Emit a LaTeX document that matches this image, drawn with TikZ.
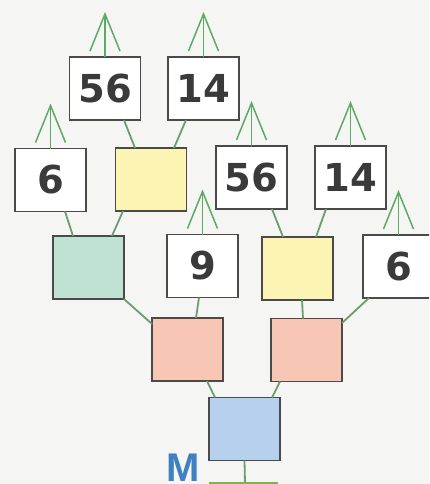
\documentclass[tikz,border=0pt]{standalone}
\usepackage{fontspec}
\setmainfont{Liberation Sans}
\newfontfamily\digitfont{DejaVu Sans}
\usetikzlibrary{calc}
\definecolor{bgc}{HTML}{F5F5F3}
\definecolor{boxline}{HTML}{4A4A4A}
\definecolor{numc}{HTML}{3A3A3A}
\definecolor{yel}{HTML}{FBF4B2}
\definecolor{mint}{HTML}{BFE2D2}
\definecolor{salm}{HTML}{F8C6B4}
\definecolor{blu}{HTML}{B7D0EE}
\definecolor{conn}{HTML}{6A9E6E}
\definecolor{arr}{HTML}{5DAA66}
\definecolor{basec}{HTML}{7AB648}
\definecolor{mblue}{HTML}{3F80C2}
\tikzset{
  cell/.style={draw=boxline, line width=1.8pt, minimum width=71pt, minimum height=63pt, inner sep=0pt, outer sep=0pt},
  numcell/.style={cell, fill=white, text=numc, font=\digitfont\fontsize{38.5}{38.5}\selectfont\bfseries},
  connline/.style={draw=conn, line width=1.8pt},
  arrline/.style={draw=arr, line width=1.5pt},
}
\newcommand{\uparr}[1]{%
  \coordinate (#1-apex) at ([yshift=43pt]#1.north);
  \draw[arrline] (#1.north) -- (#1-apex);
  \draw[arrline] ([shift={(-15pt,-37pt)}]#1-apex) -- (#1-apex) -- ([shift={(15pt,-37pt)}]#1-apex);
}
\begin{document}
\begin{tikzpicture}[x=1pt,y=-1pt]
\useasboundingbox (0,0) rectangle (429,484);
\clip (0,0) rectangle (429,484);
\fill[bgc] (0,0) rectangle (429,484);
% top row
\node[numcell] (t56) at (105,88.5) {56};
\node[numcell] (t14) at (203.5,88.5) {14};
% row 2
\node[numcell] (r6) at (50.5,180) {6};
\node[cell, fill=yel] (ry) at (151,179.5) {};
\node[numcell] (r56) at (251.5,177.5) {56};
\node[numcell] (r14) at (350.5,177.5) {14};
% row 3
\node[cell, fill=mint] (g) at (88.5,267.5) {};
\node[numcell] (n9) at (202.5,266) {9};
\node[cell, fill=yel] (y3) at (297.5,268.5) {};
\node[numcell] (n6) at (398.5,266.5) {6};
% row 4
\node[cell, fill=salm] (s1) at (187.5,349.5) {};
\node[cell, fill=salm] (s2) at (306.5,350) {};
% row 5
\node[cell, fill=blu] (b) at (244.5,429) {};
% connectors
\draw[connline] ([xshift=19pt]t56.south) -- ([xshift=-16pt]ry.north);
\draw[connline] ([xshift=-17.5pt]t14.south) -- ([xshift=23pt]ry.north);
\draw[connline] ([xshift=14.5pt]r6.south) -- ([xshift=-15.5pt]g.north);
\draw[connline] ([xshift=-28pt]ry.south) -- ([xshift=23.5pt]g.north);
\draw[connline] ([xshift=20.5pt]r56.south) -- ([xshift=-14.5pt]y3.north);
\draw[connline] ([xshift=-24.5pt]r14.south) -- ([xshift=18.5pt]y3.north);
\draw[connline] (g.south east) -- ([yshift=25.5pt]s1.west);
\draw[connline] ([xshift=-3.5pt]n9.south) -- ([xshift=8.5pt]s1.north);
\draw[connline] ([xshift=4.5pt]y3.south) -- ([xshift=-3.5pt]s2.north);
\draw[connline] ([xshift=6pt]n6.south west) -- ([yshift=27pt]s2.east);
\draw[connline] ([xshift=19.5pt]s1.south) -- ([xshift=-29.5pt]b.north);
\draw[connline] ([xshift=-26.5pt]s2.south) -- ([xshift=27.5pt]b.north);
\coordinate (base) at (245,483);
\coordinate (baseL) at (209,483);
\coordinate (baseR) at (278,483);
\draw[connline] (b.south) -- (base);
\draw[draw=basec, line width=2.5pt] (baseL) -- (baseR);
% arrows
\uparr{t56}
\uparr{t14}
\uparr{r6}
\uparr{r56}
\uparr{r14}
\uparr{n9}
\uparr{n6}
% label
\node[anchor=base, text=mblue, font=\fontsize{40}{40}\selectfont\bfseries, inner sep=0pt] (mlabel) at (183,481.5) {M};
\end{tikzpicture}
\end{document}
